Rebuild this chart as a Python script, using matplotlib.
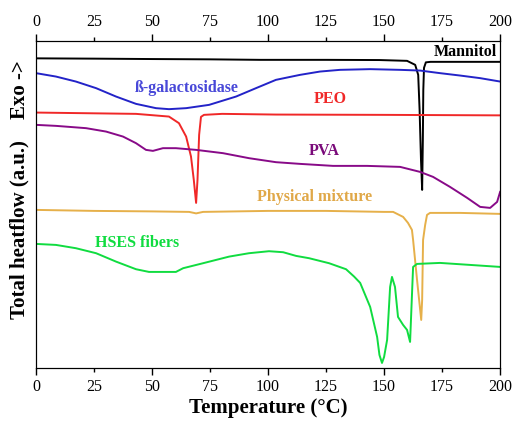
import matplotlib
matplotlib.use("Agg")
import matplotlib.pyplot as plt
from matplotlib.ticker import MultipleLocator, FormatStrFormatter

plt.rcParams['font.family'] = ['Liberation Serif', 'DejaVu Serif']

# heatflow (arbitrary units, larger = further down / endothermic)
t_mannitol = [0, 25, 50, 75, 96.6, 125, 148, 159.9, 163.4, 164.7, 165.3, 165.9, 166.4, 166.7, 166.9, 167.2, 168, 170, 200]
h_mannitol = [58.5, 58.8, 59.2, 59.5, 60, 60, 60.2, 61, 65, 75, 110, 160, 190, 140, 90, 68, 62.5, 62, 62]

t_gal = [0, 8.6, 17.2, 25.9, 34.5, 43.1, 51.7, 57.3, 64.7, 74.6, 86.2, 94.8, 103.4, 113.8, 122.4, 131,
         144, 156.9, 165.5, 174.1, 182.8, 191.4, 200]
h_gal = [73.3, 76.7, 81.7, 88.3, 96.7, 104, 108.3, 109.3, 108.3, 105, 96.7, 88.3, 80, 75, 71.7, 70,
         69.3, 70, 70.7, 73.3, 75.7, 78.3, 81.7]

t_peo = [0, 43.1, 57.3, 61.6, 64.7, 66.8, 68, 69, 69.6, 70.3, 71.1, 72.4, 80.2, 103.4, 150, 200]
h_peo = [112.7, 114, 116.7, 123.3, 136.7, 156.7, 180, 203, 180, 135, 117, 115, 114, 114.7, 115, 115.5]

t_pva = [0, 8.6, 21.6, 30.2, 37.5, 43.1, 47.4, 50.4, 54.7, 60.3, 69, 80.6, 91.8, 103.4, 113.8, 128, 142.7,
         156.9, 165.5, 171.1, 178.4, 185.8, 191.4, 195.7, 198.7, 200]
h_pva = [125, 126, 128.3, 131.7, 136.7, 143.3, 150, 151, 148.3, 148.3, 150, 153.3, 158.3, 162.3, 164, 166, 166,
         167, 172, 177, 187, 198, 207, 208, 202, 192]

t_mix = [0, 25, 50, 66, 69, 72, 100, 125, 150, 153.9, 158.2, 160.3, 162, 162.5, 164.2, 166, 166.4, 166.8,
         167.7, 168.5, 169.8, 182.8, 200]
h_mix = [210, 211, 211.5, 212, 213.5, 212, 211, 211, 212, 212, 217, 223, 230, 240, 280, 320, 300, 240,
         225, 215, 213, 213, 214]

t_hses = [0, 8.6, 17.2, 25.9, 34.5, 43.1, 48.7, 60.3, 63.4, 72, 83.2, 91.8, 100.4, 106.5, 112.1, 117.7,
          126.3, 133.6, 137.1, 139.7, 144, 147, 148, 149.1, 150, 151.3, 152.6, 153.4, 154.7, 156, 158.2,
          159.9, 161.2, 162.1, 162.5, 164.2, 174.1, 200]
h_hses = [244, 245, 248.3, 253.3, 261.7, 269.3, 272, 272, 268.3, 263.3, 256.7, 253.3, 251.3, 252.3, 256, 258.3,
          263.3, 269.3, 276.7, 283, 307, 337, 355, 363, 357, 340, 287, 277, 287, 317, 325,
          330, 342, 290, 267, 264, 263, 267]

series = [
    (t_mannitol, h_mannitol, 'black', 'Mannitol', 185, 52, 'black'),
    (t_gal, h_gal, '#2323c8', 'ß-galactosidase', 64.7, 88, '#4848d8'),
    (t_peo, h_peo, '#f02828', 'PEO', 126.7, 99, '#f02828'),
    (t_pva, h_pva, '#880a88', 'PVA', 124, 151, '#7a0a7a'),
    (t_mix, h_mix, '#e6b04a', 'Physical mixture', 120, 197, '#e0a848'),
    (t_hses, h_hses, '#10dc40', 'HSES fibers', 43.5, 243, '#10dc40'),
]

fig = plt.figure(figsize=(5.14, 4.21), dpi=100)
ax = fig.add_axes([0.070, 0.126, 0.903, 0.777])

for t, h, c, name, tx, ty, tc in series:
    ax.plot(t, h, color=c, lw=1.4)
    ax.text(tx, ty, name, color=tc, fontsize=11.5, fontweight='bold', ha='center', va='center')

ax.set_xlim(0, 200)
ax.set_ylim(368, 41)
ax.set_yticks([])

for a in (ax, ax.twiny()):
    a.set_xlim(0, 200)
    a.xaxis.set_major_locator(MultipleLocator(50))
    a.xaxis.set_minor_locator(MultipleLocator(25))
    a.xaxis.set_major_formatter(FormatStrFormatter('%d'))
    a.xaxis.set_minor_formatter(FormatStrFormatter('%d'))
    a.tick_params(axis='x', which='major', length=5, width=1, labelsize=11.5, pad=3)
    a.tick_params(axis='x', which='minor', length=3, width=1, labelsize=11.5, pad=5)

ax.set_xlabel('Temperature (°C)', fontsize=15, fontweight='bold', labelpad=2)
fig.text(0.038, 0.455, 'Total heatflow (a.u.)', rotation=90, fontsize=15, fontweight='bold',
         ha='center', va='center')
fig.text(0.038, 0.787, 'Exo ->', rotation=90, fontsize=15, fontweight='bold',
         ha='center', va='center')

fig.savefig('out.png', dpi=100)
